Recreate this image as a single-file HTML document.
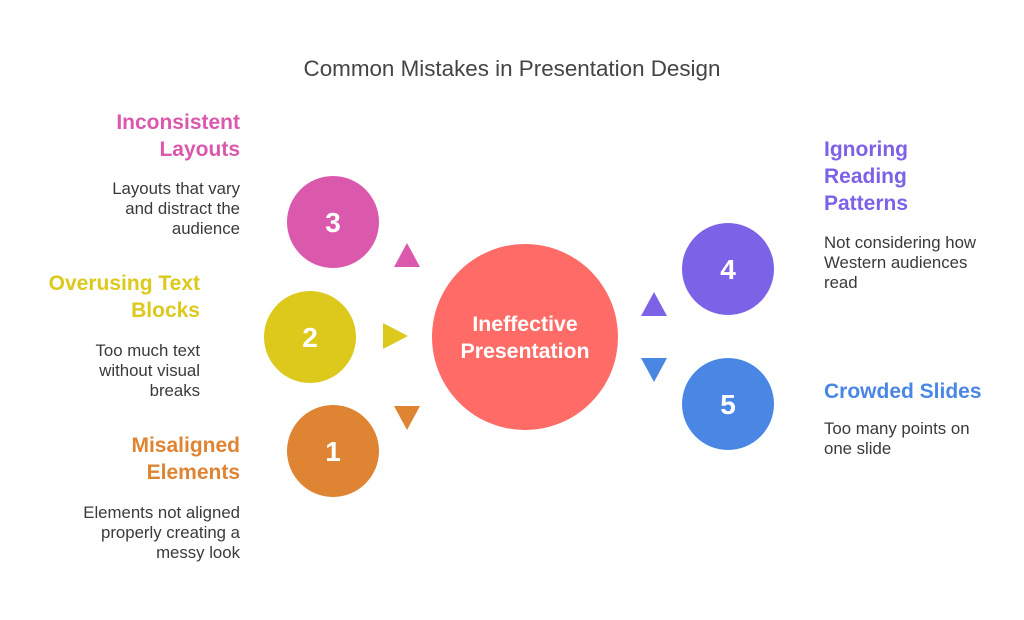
<!DOCTYPE html>
<html><head><meta charset="utf-8"><style>
html,body{margin:0;padding:0;background:#fff;}
svg{display:block;font-family:"Liberation Sans",sans-serif;}
</style></head><body>
<svg width="1024" height="620" viewBox="0 0 1024 620" xmlns="http://www.w3.org/2000/svg">
<text x="512" y="76" text-anchor="middle" font-size="22.4" fill="#444">Common Mistakes in Presentation Design</text>

<circle cx="525" cy="337" r="93" fill="#FF6B66"/>
<text x="525" y="331" text-anchor="middle" font-size="21.3" font-weight="bold" fill="#fff">Ineffective</text>
<text x="525" y="358" text-anchor="middle" font-size="21.3" font-weight="bold" fill="#fff">Presentation</text>

<circle cx="333" cy="222" r="46" fill="#DB59AC"/>
<text x="333" y="232" text-anchor="middle" font-size="28" font-weight="bold" fill="#fff">3</text>
<circle cx="310" cy="337" r="46" fill="#DDC91B"/>
<text x="310" y="347" text-anchor="middle" font-size="28" font-weight="bold" fill="#fff">2</text>
<circle cx="333" cy="451" r="46" fill="#DE8432"/>
<text x="333" y="461" text-anchor="middle" font-size="28" font-weight="bold" fill="#fff">1</text>
<circle cx="728" cy="269" r="46" fill="#7C62E6"/>
<text x="728" y="279" text-anchor="middle" font-size="28" font-weight="bold" fill="#fff">4</text>
<circle cx="728" cy="404" r="46" fill="#4A87E5"/>
<text x="728" y="414" text-anchor="middle" font-size="28" font-weight="bold" fill="#fff">5</text>

<polygon points="407,243 420,267 394,267" fill="#DB59AC"/>
<polygon points="408,336 383,323 383,349" fill="#DDC91B"/>
<polygon points="407,430 394,406 420,406" fill="#DE8432"/>
<polygon points="654,292 667,316 641,316" fill="#7C62E6"/>
<polygon points="654,382 641,358 667,358" fill="#4A87E5"/>

<g font-size="21" font-weight="bold" text-anchor="end">
<text x="240" y="129" fill="#DB59AC">Inconsistent</text>
<text x="240" y="156" fill="#DB59AC">Layouts</text>
<text x="200" y="290" fill="#DDC91B">Overusing Text</text>
<text x="200" y="317" fill="#DDC91B">Blocks</text>
<text x="240" y="452" fill="#DE8432">Misaligned</text>
<text x="240" y="479" fill="#DE8432">Elements</text>
</g>
<g font-size="16.8" fill="#3a3a3a" text-anchor="end">
<text x="240" y="194">Layouts that vary</text>
<text x="240" y="214">and distract the</text>
<text x="240" y="234">audience</text>
<text x="200" y="356">Too much text</text>
<text x="200" y="376">without visual</text>
<text x="200" y="396">breaks</text>
<text x="240" y="518">Elements not aligned</text>
<text x="240" y="538">properly creating a</text>
<text x="240" y="558">messy look</text>
</g>
<g font-size="21" font-weight="bold">
<text x="824" y="156" fill="#7C62E6">Ignoring</text>
<text x="824" y="183" fill="#7C62E6">Reading</text>
<text x="824" y="210" fill="#7C62E6">Patterns</text>
<text x="824" y="398" fill="#4A87E5">Crowded Slides</text>
</g>
<g font-size="16.8" fill="#3a3a3a">
<text x="824" y="248">Not considering how</text>
<text x="824" y="268">Western audiences</text>
<text x="824" y="288">read</text>
<text x="824" y="434">Too many points on</text>
<text x="824" y="454">one slide</text>
</g>
</svg>
</body></html>
